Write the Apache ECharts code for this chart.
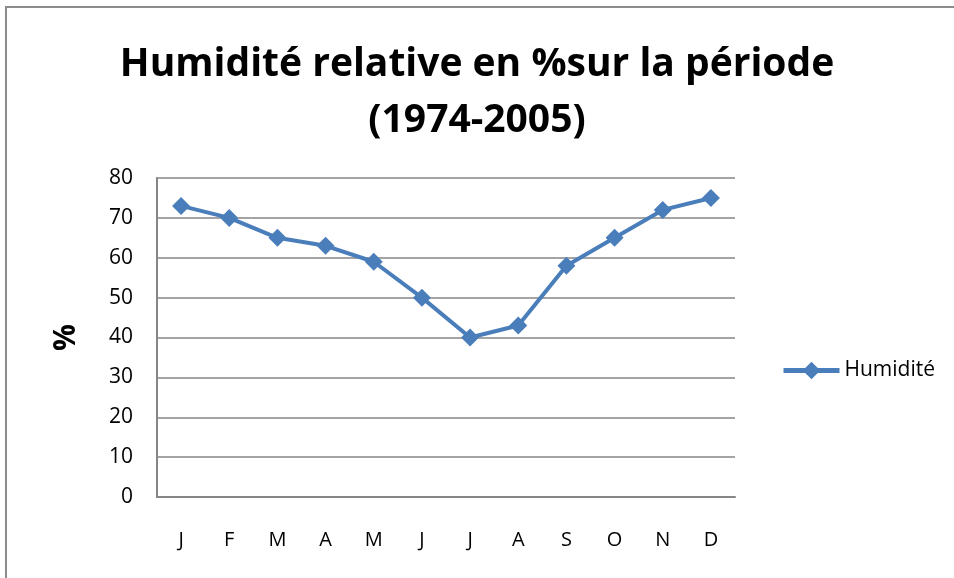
<!DOCTYPE html>
<html>
<head>
<meta charset="utf-8">
<script src="https://cdn.jsdelivr.net/npm/echarts@6/dist/echarts.min.js"></script>
<style>
    html, body { margin: 0; padding: 0; background: #fff; }
    #chart { width: 954px; height: 578px; }
</style>
</head>
<body>
<div id="chart"></div>
<script>
    var months = ['J', 'F', 'M', 'A', 'M', 'J', 'J', 'A', 'S', 'O', 'N', 'D'];
    var humidite = [73, 70, 65, 63, 59, 50, 40, 43, 58, 65, 72, 75];
    var yTicks = [0, 10, 20, 30, 40, 50, 60, 70, 80];

    var chart = echarts.init(document.getElementById('chart'));
    var blue = '#4a7ebb';

    var option = {
        animation: false,
        title: {
            text: 'Humidité relative en %sur la période\n(1974-2005)',
            left: 'center',
            top: 32,
            textStyle: {
                fontFamily: 'Open Sans',
                fontWeight: 'bold',
                fontSize: 39,
                lineHeight: 56,
                color: '#000'
            }
        },
        legend: {
            left: 776,
            top: 355,
            itemWidth: 56,
            itemHeight: 22,
            lineStyle: { width: 5 },
            textStyle: { fontFamily: 'Open Sans', fontSize: 21, color: '#000' },
            data: ['Humidité']
        },
        graphic: [{
            type: 'rect',
            shape: { x: 6, y: 7, width: 1000, height: 700 },
            style: { fill: 'none', stroke: '#8c8c8c', lineWidth: 2 }
        }],
        grid: { left: 157, right: 219, top: 178, bottom: 81 },
        xAxis: {
            type: 'category',
            data: months,
            axisLine: { lineStyle: { color: '#868686', width: 2 } },
            axisTick: { show: false },
            axisLabel: { margin: 33, fontFamily: 'Open Sans', fontSize: 20, color: '#000' }
        },
        yAxis: {
            type: 'value',
            min: yTicks[0],
            max: yTicks[yTicks.length - 1],
            interval: 10,
            name: '%',
            nameLocation: 'middle',
            nameRotate: 90,
            nameGap: 76,
            nameTextStyle: { fontFamily: 'Open Sans', fontWeight: 'bold', fontSize: 30, color: '#000' },
            axisLine: { show: true, lineStyle: { color: '#868686', width: 2 } },
            axisTick: { show: false },
            splitLine: { lineStyle: { color: '#868686', width: 1.5 } },
            axisLabel: { margin: 24, fontFamily: 'Open Sans', fontSize: 21, color: '#000' }
        },
        series: [{
            name: 'Humidité',
            type: 'line',
            data: humidite,
            symbol: 'diamond',
            symbolSize: 18,
            lineStyle: { color: blue, width: 4 },
            itemStyle: { color: blue }
        }]
    };

    chart.setOption(option);
</script>
</body>
</html>
